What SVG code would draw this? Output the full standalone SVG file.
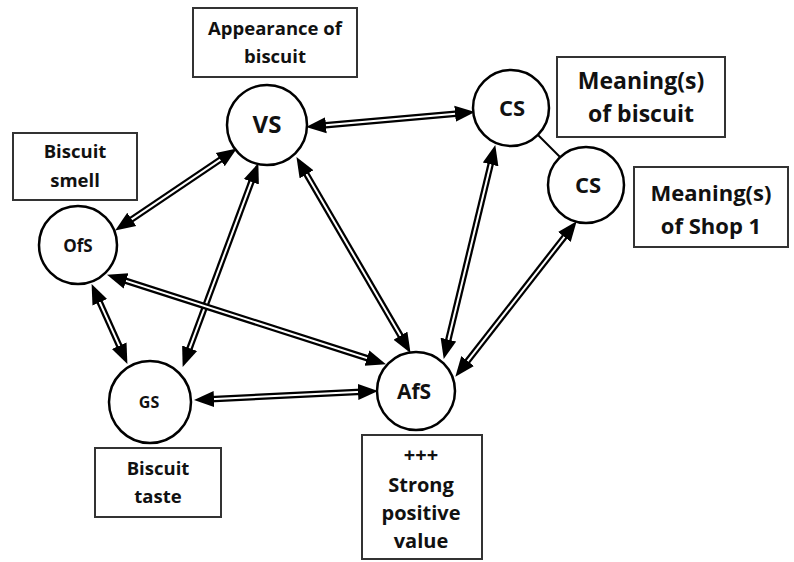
<svg xmlns="http://www.w3.org/2000/svg" width="794" height="562" viewBox="0 0 794 562">
<style>
.node circle{fill:#fff;stroke:#000;stroke-width:2.5}
.box rect{fill:#fff;stroke:#333;stroke-width:2}
text{font-family:"Open Sans","Noto Sans","Liberation Sans",sans-serif;font-weight:bold;fill:#111;text-anchor:middle}
.outer{fill:none;stroke:#000;stroke-width:6.5}
.inner{fill:none;stroke:#fff;stroke-width:2;marker-start:url(#ah);marker-end:url(#ah)}
</style>
<defs>
<marker id="ah" markerUnits="userSpaceOnUse" markerWidth="22" markerHeight="18" refX="9" refY="9" orient="auto-start-reverse">
<path d="M0,1 L20,9 L0,17 z" fill="#000"/>
</marker>
</defs>
<rect width="794" height="562" fill="#fff"/>
<g id="labels">
<g id="box-appearance" class="box"><rect x="193" y="8" width="164" height="69"/><text x="275" y="35" font-size="18.5">Appearance of</text><text x="275" y="63" font-size="18.5">biscuit</text></g>
<g id="box-meaning-biscuit" class="box"><rect x="557" y="57" width="168" height="80"/><text x="641" y="89" font-size="23">Meaning(s)</text><text x="641" y="122" font-size="23">of biscuit</text></g>
<g id="box-meaning-shop" class="box"><rect x="634" y="167" width="154" height="80"/><text x="711" y="201" font-size="22">Meaning(s)</text><text x="711" y="234" font-size="22">of Shop 1</text></g>
<g id="box-smell" class="box"><rect x="13" y="133" width="124" height="67"/><text x="75" y="158" font-size="18.5">Biscuit</text><text x="75" y="187" font-size="18.5">smell</text></g>
<g id="box-taste" class="box"><rect x="95" y="448" width="126" height="69"/><text x="158" y="475" font-size="18.5">Biscuit</text><text x="158" y="503" font-size="18.5">taste</text></g>
<g id="box-value" class="box"><rect x="362" y="435" width="120" height="124"/><text x="421" y="462" font-size="20">+++</text><text x="421" y="492" font-size="20">Strong</text><text x="421" y="520" font-size="20">positive</text><text x="421" y="548" font-size="20">value</text></g>
</g>
<g id="connectors">
<line x1="538" y1="135" x2="560" y2="157" stroke="#000" stroke-width="2"/>
<path class="outer" d="M317,126.1 L464,112.9"/><path class="inner" d="M317,126.1 L464,112.9"/>
<path class="outer" d="M124.3,224.4 L227.7,154.6"/><path class="inner" d="M124.3,224.4 L227.7,154.6"/>
<path class="outer" d="M254.5,173.4 L186.5,356.6"/><path class="inner" d="M254.5,173.4 L186.5,356.6"/>
<path class="outer" d="M302,166.6 L405,343.4"/><path class="inner" d="M302,166.6 L405,343.4"/>
<path class="outer" d="M492.7,155.7 L446.3,348.3"/><path class="inner" d="M492.7,155.7 L446.3,348.3"/>
<path class="outer" d="M569.9,229.9 L462.1,368.1"/><path class="inner" d="M569.9,229.9 L462.1,368.1"/>
<path class="outer" d="M96.1,294.1 L122.9,353.9"/><path class="inner" d="M96.1,294.1 L122.9,353.9"/>
<path class="outer" d="M117.5,278.1 L375.5,360.9"/><path class="inner" d="M117.5,278.1 L375.5,360.9"/>
<path class="outer" d="M205,399.5 L367,391.5"/><path class="inner" d="M205,399.5 L367,391.5"/>
</g>
<g id="VS" class="node"><circle cx="267" cy="125" r="40"/><text x="267" y="133" font-size="24">VS</text></g>
<g id="CS1" class="node"><circle cx="511" cy="108" r="38"/><text x="512" y="116" font-size="22">CS</text></g>
<g id="CS2" class="node"><circle cx="586" cy="185" r="38"/><text x="588" y="193" font-size="22">CS</text></g>
<g id="OfS" class="node"><circle cx="78" cy="245" r="39"/><text x="78" y="252" font-size="17">OfS</text></g>
<g id="GS" class="node"><circle cx="150" cy="402" r="41"/><text x="149" y="408" font-size="16">GS</text></g>
<g id="AfS" class="node"><circle cx="416" cy="391" r="39"/><text x="414" y="399" font-size="21">AfS</text></g>
</svg>
